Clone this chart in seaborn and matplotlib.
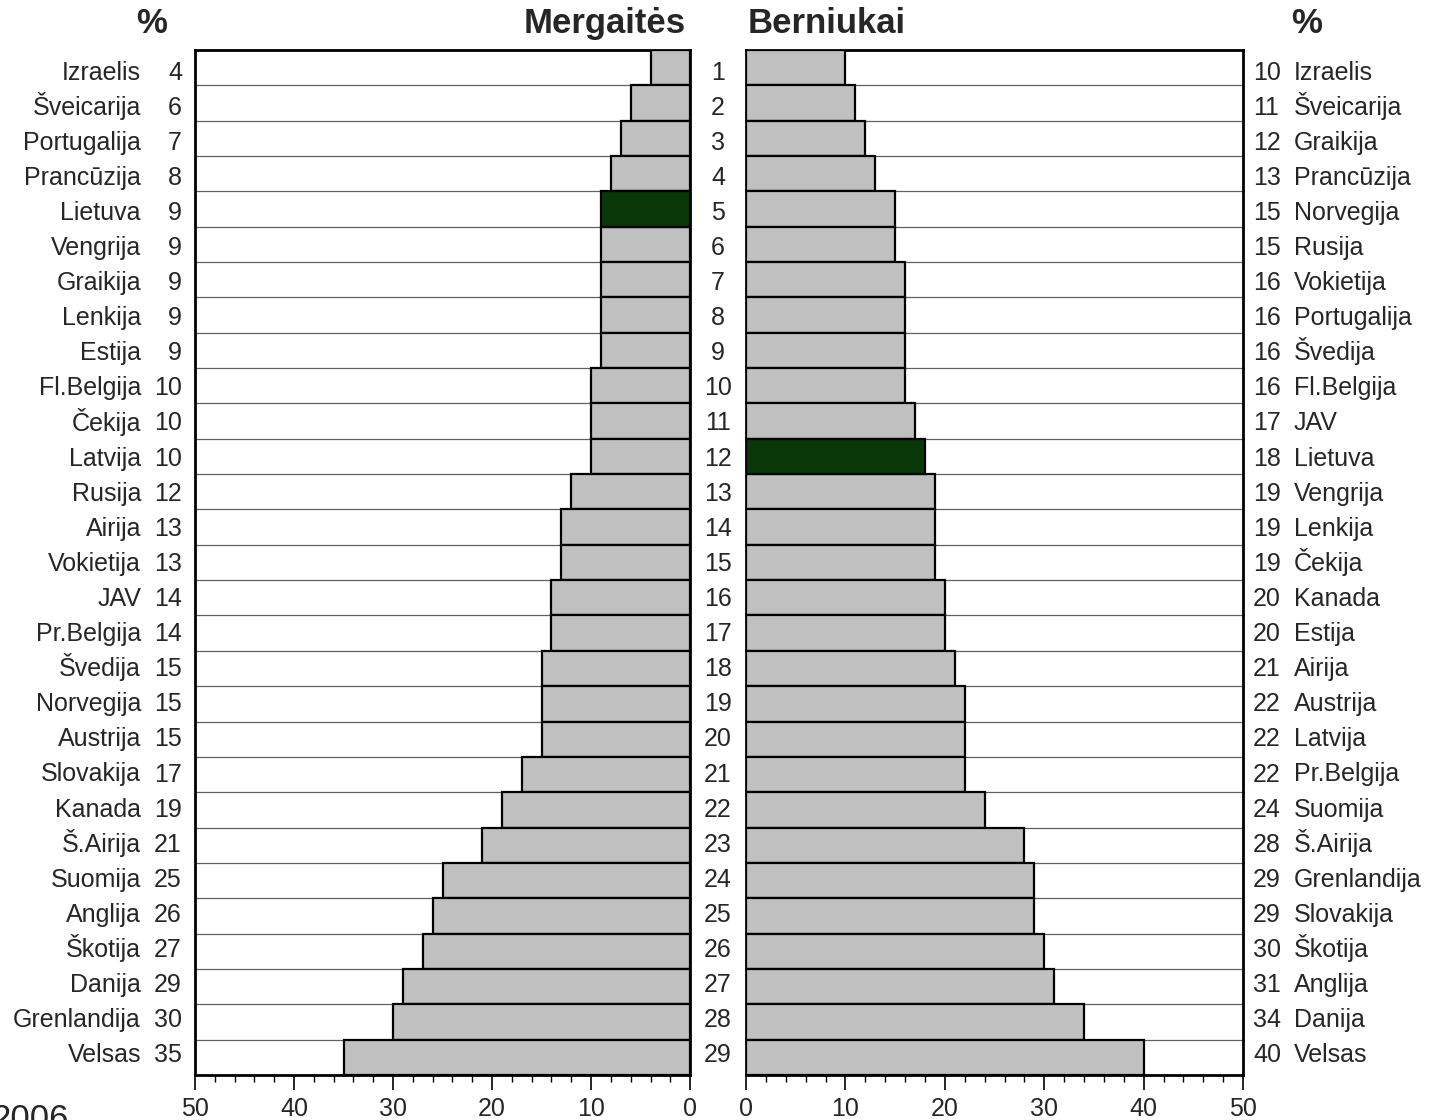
import matplotlib
matplotlib.use("Agg")
import matplotlib.pyplot as plt
from matplotlib.ticker import MultipleLocator
import seaborn as sns
import pandas as pd

# girls, ranked
girls_countries = ["Izraelis", "Šveicarija", "Portugalija", "Prancūzija", "Lietuva",
                   "Vengrija", "Graikija", "Lenkija", "Estija", "Fl.Belgija", "Čekija",
                   "Latvija", "Rusija", "Airija", "Vokietija", "JAV", "Pr.Belgija",
                   "Švedija", "Norvegija", "Austrija", "Slovakija", "Kanada", "Š.Airija",
                   "Suomija", "Anglija", "Škotija", "Danija", "Grenlandija", "Velsas"]
girls_values = [4, 6, 7, 8, 9, 9, 9, 9, 9, 10, 10, 10, 12, 13, 13, 14, 14, 15, 15, 15,
                17, 19, 21, 25, 26, 27, 29, 30, 35]

# boys, ranked
boys_countries = ["Izraelis", "Šveicarija", "Graikija", "Prancūzija", "Norvegija",
                  "Rusija", "Vokietija", "Portugalija", "Švedija", "Fl.Belgija", "JAV",
                  "Lietuva", "Vengrija", "Lenkija", "Čekija", "Kanada", "Estija",
                  "Airija", "Austrija", "Latvija", "Pr.Belgija", "Suomija", "Š.Airija",
                  "Grenlandija", "Slovakija", "Škotija", "Anglija", "Danija", "Velsas"]
boys_values = [10, 11, 12, 13, 15, 15, 16, 16, 16, 16, 17, 18, 19, 19, 19, 20, 20, 21,
               22, 22, 22, 24, 28, 29, 29, 30, 31, 34, 40]

ranks = list(range(1, 30))
highlight = "Lietuva"

sns.set_style("white")
plt.rcParams['font.family'] = ['Liberation Sans', 'DejaVu Sans']

GREY = "#c0c0c0"
GREEN = "#004000"
FS = 18
TFS = 25
W, H = 1430, 1120


def draw_panel(ax, countries, values):
    df = pd.DataFrame({"rank": [str(r) for r in ranks], "value": values,
                       "hl": [c == highlight for c in countries]})
    sns.barplot(data=df, x="value", y="rank", hue="hl", orient="h",
                palette={False: GREY, True: GREEN}, dodge=False, width=1.0,
                edgecolor="black", linewidth=1.6, legend=False, ax=ax, zorder=3)
    for k in range(len(ranks) - 1):
        ax.axhline(k + 0.5, color="#606060", lw=0.9, zorder=1)
    ax.set_xlim(0, 50)
    ax.set_ylim(len(ranks) - 0.5, -0.5)
    ax.set_xlabel("")
    ax.set_ylabel("")
    ax.set_yticks([])
    ax.xaxis.set_major_locator(MultipleLocator(10))
    ax.xaxis.set_minor_locator(MultipleLocator(2))
    ax.tick_params(axis="x", which="major", direction="out", length=11, width=1.2,
                   color="black", labelsize=FS, pad=5, bottom=True)
    ax.tick_params(axis="x", which="minor", direction="out", length=5, width=1.0,
                   color="black", bottom=True)
    for s in ax.spines.values():
        s.set_visible(True)
        s.set_color("black")
        s.set_linewidth(2)


fig = plt.figure(figsize=(W / 100, H / 100), dpi=100)
axL = fig.add_axes([0.1364, 0.0402, 0.3462, 0.9152])
axR = fig.add_axes([0.5217, 0.0402, 0.3476, 0.9152])

draw_panel(axL, girls_countries, girls_values)
axL.invert_xaxis()
draw_panel(axR, boys_countries, boys_values)


def row_y(i):
    # baseline of the row labels, in figure fraction
    return 1 - (79.5 + i * 35.1) / H


for i, (c, v) in enumerate(zip(girls_countries, girls_values)):
    y = row_y(i)
    fig.text(141 / W, y, c, ha="right", va="baseline", fontsize=FS)
    fig.text(182 / W, y, str(v), ha="right", va="baseline", fontsize=FS)
    fig.text(718 / W, y, str(ranks[i]), ha="center", va="baseline", fontsize=FS)

for i, (c, v) in enumerate(zip(boys_countries, boys_values)):
    y = row_y(i)
    fig.text(1253 / W, y, str(v), ha="left", va="baseline", fontsize=FS)
    fig.text(1294 / W, y, c, ha="left", va="baseline", fontsize=FS)

ty = 0.9705
fig.text(0.106, ty, "%", ha="center", va="baseline", fontsize=TFS, fontweight="bold")
fig.text(0.4795, ty, "Mergaitės", ha="right", va="baseline", fontsize=TFS, fontweight="bold")
fig.text(0.523, ty, "Berniukai", ha="left", va="baseline", fontsize=TFS, fontweight="bold")
fig.text(0.914, ty, "%", ha="center", va="baseline", fontsize=TFS, fontweight="bold")
fig.text(-0.006, -0.008, "2006", ha="left", va="baseline", fontsize=TFS)

fig.savefig("out.png", dpi=100)
